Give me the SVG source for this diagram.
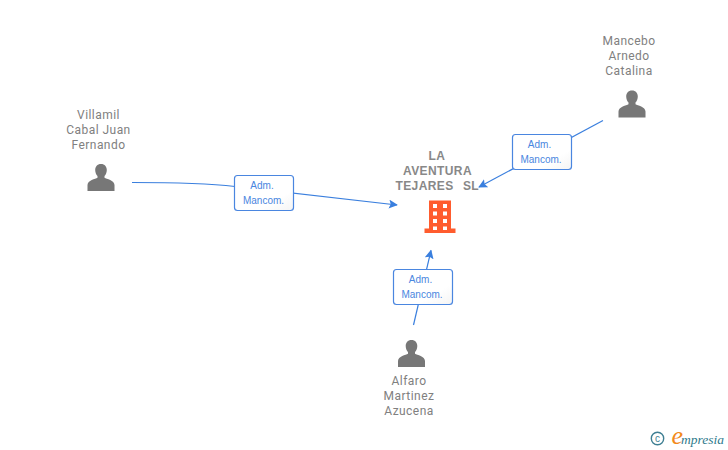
<svg xmlns="http://www.w3.org/2000/svg" width="728" height="450" viewBox="0 0 728 450">
<style>
.n{font-family:Roboto,"Liberation Sans",sans-serif;font-size:12px;fill:#808080;text-anchor:middle;letter-spacing:.45px}
.b{font-family:"Liberation Sans",Arial,sans-serif;font-size:12px;font-weight:700;fill:#888;text-anchor:middle;letter-spacing:.4px}
.e{font-family:"Liberation Sans",Arial,sans-serif;font-size:10px;fill:#4a86e0;text-anchor:middle}
.c{fill:none;stroke:#3a7fde;stroke-width:1.2}
.box{stroke:#4a86e0;stroke-width:1.2}
.p{fill:#777}
</style>
<defs>
<marker id="a" viewBox="0 0 10 10" refX="9" refY="5" markerWidth="9" markerHeight="9" markerUnits="userSpaceOnUse" orient="auto"><path d="M0 0L10 5L0 10L2 5Z" fill="#3a7fde"/></marker>
<linearGradient id="g" x1="0" y1="0" x2="1" y2="1"><stop offset="0" stop-color="#fff"/><stop offset=".7" stop-color="#fff"/><stop offset="1" stop-color="#f4f4f4"/></linearGradient>
<g id="person"><path class="p" d="M0-15.500C-3.800-15.500-5.800-12.800-5.800-9.500C-5.800-7-4.800-4.800-3.500-3.400L-3.500-1.700C-5.500-.6-13.500 1-13.500 5.500L-13.500 11.500L13.500 11.500L13.500 5.500C13.500 1 5.500-.6 3.500-1.700L3.500-3.400C4.800-4.800 5.800-7 5.800-9.500C5.800-12.800 3.800-15.500 0-15.500Z"/></g>
</defs>
<g id="connectors">
<path class="c" marker-end="url(#a)" d="M132 182.500C170 182.500 205 183 235 186.500L397 205"/>
<path class="c" marker-end="url(#a)" d="M603 120.500L479 187"/>
<path class="c" marker-end="url(#a)" d="M413.500 325L431 250.500"/>
</g>
<g id="node-main">
<text class="b" x="437" y="160">LA</text>
<text class="b" x="437.500" y="175">AVENTURA</text>
<text class="b" x="424.500" y="190">TEJARES</text>
<text class="b" x="471" y="190">SL</text>
<path fill="#ff5c2e" fill-rule="evenodd" d="M429 200.500H451V228.500H455.500V233H424.500V228.500H429ZM433 204V208H437V204ZM443 204V208H447V204ZM433 211.500V215.500H437V211.500ZM443 211.500V215.500H447V211.500ZM433 219V223H437V219ZM443 219V223H447V219ZM433 226.500V230H437V226.500ZM443 226.500V230H447V226.500Z"/>
</g>
<g id="node-villamil">
<text class="n" x="98.500" y="119">Villamil</text>
<text class="n" x="98.500" y="134">Cabal Juan</text>
<text class="n" x="98.500" y="149">Fernando</text>
<use href="#person" x="101" y="179.500"/>
</g>
<g id="node-mancebo">
<text class="n" x="629" y="45">Mancebo</text>
<text class="n" x="629" y="60">Arnedo</text>
<text class="n" x="629" y="75">Catalina</text>
<use href="#person" x="632" y="106"/>
</g>
<g id="node-alfaro">
<use href="#person" x="411.500" y="355.500"/>
<text class="n" x="409" y="385">Alfaro</text>
<text class="n" x="409" y="400">Martinez</text>
<text class="n" x="409" y="415">Azucena</text>
</g>
<g id="label-1">
<rect class="box" x="234.500" y="175.500" width="59" height="35" rx="3" fill="url(#g)"/>
<text class="e" x="262" y="189">Adm.</text>
<text class="e" x="263.500" y="204">Mancom.</text>
</g>
<g id="label-2">
<rect class="box" x="512.500" y="134.500" width="59" height="35" rx="3" fill="url(#g)"/>
<text class="e" x="539.500" y="148">Adm.</text>
<text class="e" x="541" y="163">Mancom.</text>
</g>
<g id="label-3">
<rect class="box" x="393.500" y="269.500" width="59" height="35" rx="3" fill="url(#g)"/>
<text class="e" x="420.500" y="283">Adm.</text>
<text class="e" x="422" y="298">Mancom.</text>
</g>
<g id="logo">
<circle cx="657.500" cy="438.500" r="6.200" fill="none" stroke="#3f7f93" stroke-width="1.400"/>
<text x="657.500" y="442" font-family="Liberation Sans,sans-serif" font-size="10" fill="#3f7f93" text-anchor="middle">c</text>
<text x="671.500" y="443.500" font-family="Liberation Serif,serif" font-style="italic" font-size="13.500" fill="#2f7a8c"><tspan font-size="26" fill="#f28a1c">e</tspan><tspan dx="-2">mpresia</tspan></text>
</g>
</svg>
